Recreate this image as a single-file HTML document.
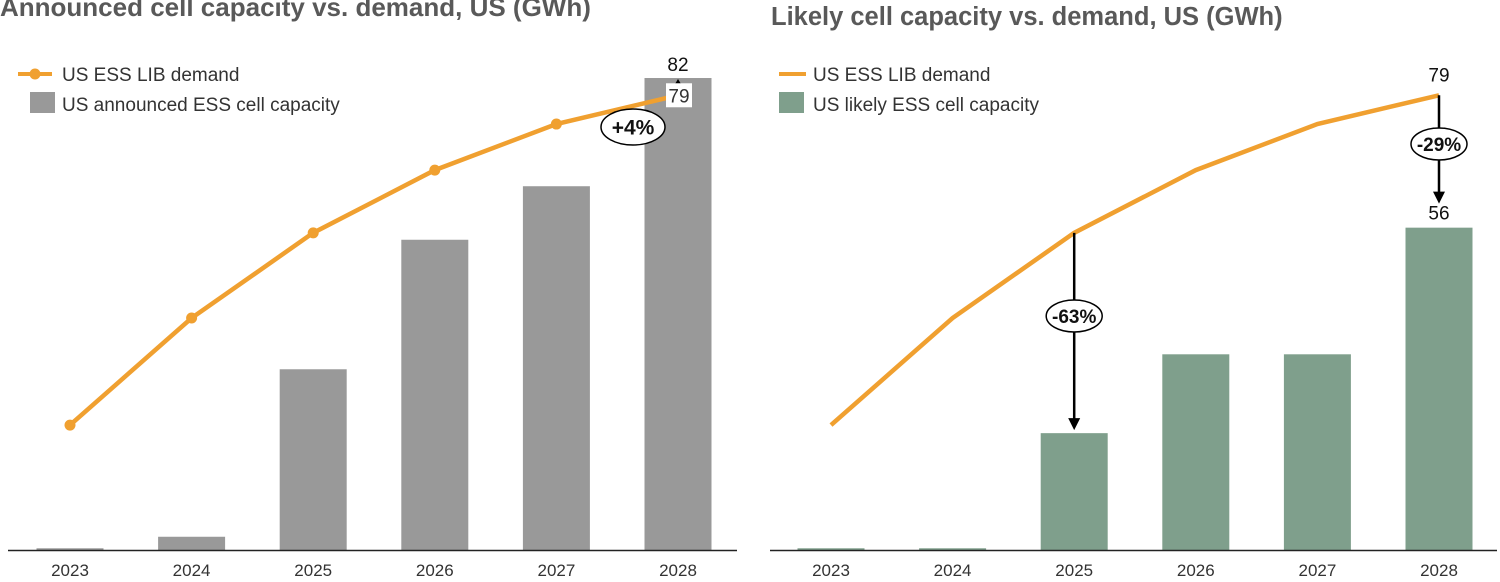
<!DOCTYPE html>
<html><head><meta charset="utf-8">
<style>
body{margin:0;background:#fff;width:1500px;height:577px;overflow:hidden;font-family:"Liberation Sans",Arial,sans-serif}
svg text{font-family:"Liberation Sans",Arial,sans-serif}
</style></head>
<body>
<svg id="c" width="1500" height="577" viewBox="0 0 1500 577">
<text x="0" y="16" font-size="26" font-weight="bold" fill="#595959">Announced cell capacity vs. demand, US (GWh)</text>
<text x="771" y="25" font-size="25.5" font-weight="bold" fill="#595959">Likely cell capacity vs. demand, US (GWh)</text>
<g>
<line x1="18" y1="74" x2="52" y2="74" stroke="#F0A030" stroke-width="4"/><circle cx="35" cy="74" r="5.5" fill="#F0A030"/>
<text x="62" y="81" font-size="19" fill="#333">US ESS LIB demand</text>
<rect x="30" y="92" width="25" height="21" fill="#999"/>
<text x="62" y="111" font-size="19" fill="#333">US announced ESS cell capacity</text>
</g>
<g>
<line x1="779" y1="74" x2="806" y2="74" stroke="#F0A030" stroke-width="4"/>
<text x="813" y="81" font-size="19" fill="#333">US ESS LIB demand</text>
<rect x="779" y="92" width="25" height="21" fill="#7F9F8C"/>
<text x="813" y="111" font-size="19" fill="#333">US likely ESS cell capacity</text>
</g>
<g id="plots"></g>
</svg>
<script>
const years=["2023","2024","2025","2026","2027","2028"];
const demand=[21.7,40.3,55.1,66,74,79];
const announced=[0.3,2.3,31.4,53.9,63.2,82];
const likely=[0.3,0.3,20.3,34,34,56];
const NS="http://www.w3.org/2000/svg";
const g=document.getElementById('plots');
const base=550, ppu=5.756;
const y=v=>base-v*ppu;
function el(t,a,p){const e=document.createElementNS(NS,t);for(const k in a)e.setAttribute(k,a[k]);(p||g).appendChild(e);return e;}
function panel(x0,axL,axR,bars,color,dots,side){
  const xs=i=>x0+i*121.6;
  bars.forEach((v,i)=>{
    const r=el('rect',{x:xs(i)-33.5,y:y(v),width:67,height:base-y(v),fill:color});
    
    
    const t=el('text',{x:xs(i),y:576,'font-size':17,'text-anchor':'middle',fill:'#333'});
    t.textContent=years[i];
    
    
  });
  const ax=el('line',{x1:axL,y1:base+0.5,x2:axR,y2:base+0.5,stroke:'#222','stroke-width':1.5});
  
  
  const pl=el('polyline',{points:demand.map((v,i)=>xs(i)+','+y(v)).join(' '),fill:'none',stroke:'#F0A030','stroke-width':4.5});
  
  
  if(dots)demand.slice(0,5).forEach((v,i)=>{
    const c=el('circle',{cx:xs(i),cy:y(v),r:5.5,fill:'#F0A030'});
    
    
  });
  return xs;
}
function txt(x,yy,s,size,bold,name){const t=el('text',{x:x,y:yy,'font-size':size,'text-anchor':'middle',fill:'#111','font-weight':bold?'bold':'normal'});t.textContent=s;return t;}
function bubble(cx,cy,rx,ry,s,size,name){const e=el('ellipse',{cx:cx,cy:cy,rx:rx,ry:ry,fill:'#fff',stroke:'#000','stroke-width':1.5});txt(cx,cy+size*0.36,s,size,true,name+'-label');}
function arrow(x,y1,y2,name){const a=el('line',{x1:x,y1:y1,x2:x,y2:y2-10,stroke:'#000','stroke-width':2.5});el('path',{d:`M${x-6},${y2-12} L${x+6},${y2-12} L${x},${y2} z`,fill:'#000'});}
// left
const xl=panel(70,8,737,announced,'#999',true,'left');
txt(xl(5),y(announced[5])-7,String(announced[5]),19,false,'label-announced-2028');
el('path',{d:`M${xl(5)-3},${y(announced[5])+6} L${xl(5)+3},${y(announced[5])+6} L${xl(5)},${y(announced[5])+1} z`,fill:'#000'});
const wb=el('rect',{x:xl(5)-12,y:y(demand[5])-12,width:26,height:24,fill:'#fff'});


txt(xl(5)+1,y(demand[5])+7,String(demand[5]),19,false,'label-demand-2028-left').setAttribute('fill','#333');
bubble(633,127,32,18,'+4%',21,'gap-bubble-left');
// right
const xr=panel(831,770,1497,likely,'#7F9F8C',false,'right');
txt(xr(5),y(demand[5])-14,String(demand[5]),19,false,'label-demand-2028-right');
arrow(xr(5),y(demand[5]),y(likely[5])-24,'gap-arrow-2028');
bubble(xr(5),144,28,16,'-29%',19,'gap-bubble-2028');
txt(xr(5),y(likely[5])-8,String(likely[5]),19,false,'label-likely-2028');
arrow(xr(2),y(demand[2]),y(likely[2])-3,'gap-arrow-2025');
bubble(xr(2),316,28,16,'-63%',19,'gap-bubble-2025');
</script>
</body></html>
